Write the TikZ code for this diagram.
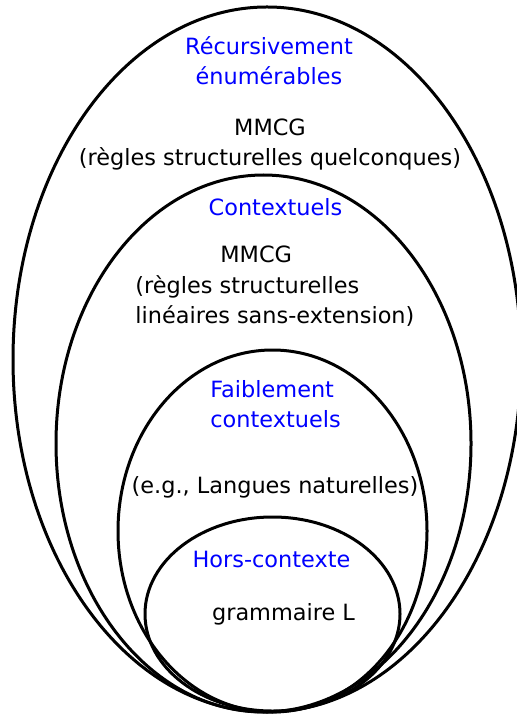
\documentclass[tikz,border=0pt]{standalone}
\usepackage{fontspec}
\setmainfont{DejaVu Sans}
\tikzset{
  classe/.style={draw=black, line width=1.5pt},
  titre/.style={text=blue, inner sep=0pt},
  exemple/.style={text=black, inner sep=0pt},
}
\begin{document}
\begin{tikzpicture}[x=0.5pt,y=-0.5pt,font=\fontsize{11.2}{15}\selectfont]
    \useasboundingbox (0,0) rectangle (516,715);

    % les quatre classes
    \draw[classe] (267,359.5) ellipse [x radius=254, y radius=352.5];
    \draw[classe] (263.5,443.5) ellipse [x radius=207.5, y radius=268.5];
    \draw[classe] (272.5,531) ellipse [x radius=154.5, y radius=181];
    \draw[classe] (272.5,614) ellipse [x radius=127.5, y radius=97];

    % recursivement enumerables (base = derniere ligne)
    \node[titre, align=center, anchor=base] (re) at (269,85) {Récursivement\\énumérables};
    \node[exemple, align=center, anchor=base] (mmcgA) at (270,166) {MMCG\\(règles structurelles quelconques)};

    % contextuels
    \node[titre, anchor=base] (ctx) at (275.5,216) {Contextuels};
    \node[exemple, align=left, anchor=base west] (mmcgB) at (135,323) {\hspace*{42.5pt}MMCG\\(règles structurelles\\linéaires sans-extension)};

    % faiblement contextuels
    \node[titre, align=left, anchor=base west] (fc) at (210,427) {Faiblement\\contextuels};
    \node[exemple, anchor=base] (ln) at (275,493) {(e.g., Langues naturelles)};

    % hors-contexte
    \node[titre, anchor=base] (hc) at (271.5,567) {Hors-contexte};
    \node[exemple, anchor=base] (gl) at (283.5,620) {grammaire L};
\end{tikzpicture}
\end{document}
